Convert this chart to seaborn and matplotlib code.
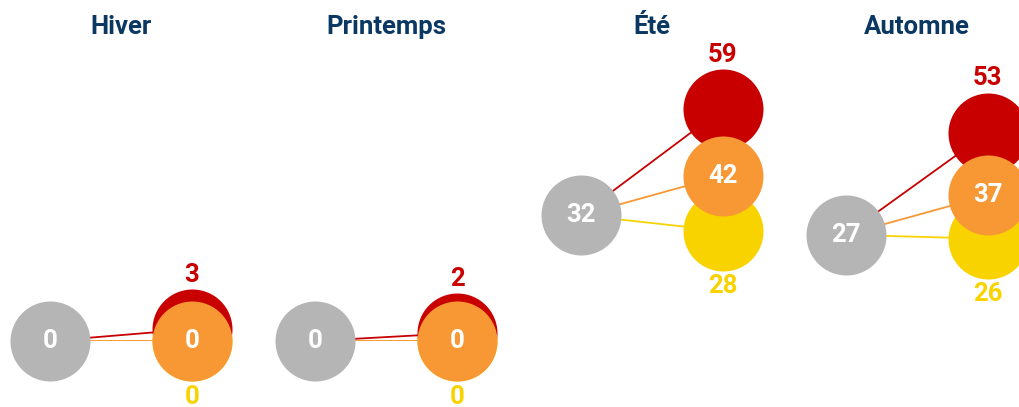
#import packages
import matplotlib
matplotlib.use("Agg")
import matplotlib.pyplot as plt
import seaborn as sns

#data
seasons = ["Hiver", "Printemps", "Été", "Automne"]
base_vals = [0, 0, 32, 27]
red_vals = [3, 2, 59, 53]
orange_vals = [0, 0, 42, 37]
yellow_vals = [0, 0, 28, 26]

#style
sns.set_style("white")
plt.rcParams['font.family'] = ['Roboto', 'DejaVu Sans']

GRAY = "#B5B5B5"
RED = "#C80000"
ORANGE = "#F89834"
YELLOW = "#F9D300"
NAVY = "#0B3863"
SIZE = 3318  # circle diameter ~80px

W, H = 1020, 407
fig = plt.figure(figsize=(W / 100, H / 100), dpi=100)

for i, season in enumerate(seasons):
    left = 50 + i * 265.3
    ax = fig.add_axes([left / W, 66 / H, 142 / W, 236 / H])
    ax.set_xlim(0, 1)
    ax.set_ylim(0, 60)
    ax.axis("off")

    b = base_vals[i]

    #connecting lines (yellow under orange under red)
    for v, c, z in [(yellow_vals[i], YELLOW, 1.0), (orange_vals[i], ORANGE, 1.1), (red_vals[i], RED, 1.2)]:
        sns.lineplot(x=[0, 1], y=[b, v], color=c, linewidth=1.3, ax=ax, zorder=z)

    #circles
    for v, c, z in [(yellow_vals[i], YELLOW, 2), (red_vals[i], RED, 3), (orange_vals[i], ORANGE, 4)]:
        sns.scatterplot(x=[1], y=[v], s=SIZE, color=c, linewidth=0, ax=ax,
                        clip_on=False, zorder=z)
    sns.scatterplot(x=[0], y=[b], s=SIZE, color=GRAY, linewidth=0, ax=ax,
                    clip_on=False, zorder=5)

    #labels
    txt = dict(fontsize=18.5, fontweight="bold", ha="center", va="center",
               annotation_clip=False)
    ax.annotate(str(b), (0, b), color="white", zorder=6, **txt)
    ax.annotate(str(orange_vals[i]), (1, orange_vals[i]), color="white", zorder=6, **txt)
    ax.annotate(str(red_vals[i]), (1, red_vals[i]), xytext=(0, 39),
                textcoords="offset points", color=RED, zorder=6, **txt)
    ax.annotate(str(yellow_vals[i]), (1, yellow_vals[i]), xytext=(0, -40),
                textcoords="offset points", color=YELLOW, zorder=6, **txt)

    fig.text((left + 71) / W, 1 - 27 / H, season, fontsize=18.5, fontweight="bold",
             color=NAVY, ha="center", va="center")

plt.savefig("out.png", dpi=100)
